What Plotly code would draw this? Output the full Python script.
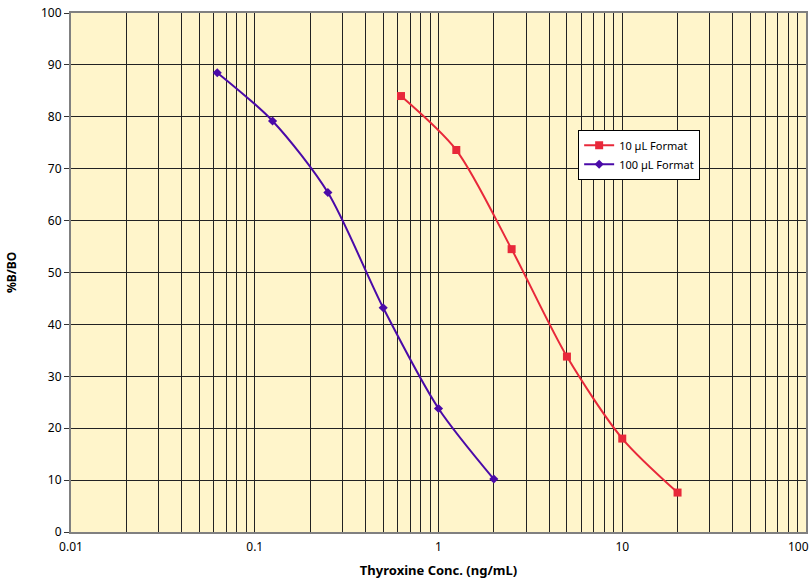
import plotly.graph_objects as go

# Standard curves: %B/B0 versus thyroxine concentration (ng/mL)
conc_10ul = [0.625, 1.25, 2.5, 5, 10, 20]
pct_10ul = [84.0, 73.6, 54.5, 33.8, 18.0, 7.6]

conc_100ul = [0.0625, 0.125, 0.25, 0.5, 1, 2]
pct_100ul = [88.5, 79.2, 65.4, 43.2, 23.8, 10.2]

decades = [0.01, 0.1, 1, 10, 100]
decade_labels = ["0.01", "0.1", "1", "10", "100"]

# every 1..9 position within each decade gets a grid line; only decades are labelled
grid_vals = []
grid_text = []
for d, lab in zip(decades[:-1], decade_labels[:-1]):
    for k in range(1, 10):
        grid_vals.append(d * k)
        grid_text.append(lab if k == 1 else "")
# last decade label is placed as an annotation so it stays inside the page
grid_vals.append(decades[-1])
grid_text.append("")

y_ticks = list(range(0, 101, 10))

font_family = "Noto Sans, Open Sans, Arial, sans-serif"

fig = go.Figure()
fig.add_trace(go.Scatter(
    x=conc_10ul, y=pct_10ul, name="10 \u00b5L Format",
    mode="lines+markers", line=dict(color="#E8283A", width=2, shape="spline", smoothing=0.8),
    marker=dict(symbol="square", size=8, color="#E8283A"),
))
fig.add_trace(go.Scatter(
    x=conc_100ul, y=pct_100ul, name="100 \u00b5L Format",
    mode="lines+markers", line=dict(color="#4A0AA8", width=2, shape="spline", smoothing=0.8),
    marker=dict(symbol="diamond", size=7, color="#4A0AA8"),
))

fig.add_annotation(
    x=2, xref="x", y=0, yref="paper",
    text=decade_labels[-1], showarrow=False,
    xanchor="right", yanchor="top", xshift=5, yshift=-4,
    font=dict(size=12, family=font_family, color="black"),
)

fig.update_layout(
    width=811, height=579,
    margin=dict(l=71, r=5, t=13, b=47),
    paper_bgcolor="white",
    plot_bgcolor="#FFF5CB",
    font=dict(family=font_family, size=11, color="black"),
    legend=dict(
        x=0.69, y=0.775, xanchor="left", yanchor="top",
        bgcolor="white", bordercolor="black", borderwidth=1,
        font=dict(size=11), itemwidth=30, tracegroupgap=2,
    ),
    xaxis=dict(
        type="log", range=[-2, 2], automargin=False,
        tickmode="array", tickvals=grid_vals, ticktext=grid_text,
        showgrid=True, gridcolor="#222222", gridwidth=1,
        showline=True, linecolor="#808080", linewidth=2, mirror=True,
        ticks="", tickfont=dict(size=12), ticklabelstandoff=3,
        title=dict(text="<b>Thyroxine Conc. (ng/mL)</b>", font=dict(size=13), standoff=12),
        zeroline=False,
    ),
    yaxis=dict(
        range=[0, 100], tickmode="array", tickvals=y_ticks, automargin=False,
        showgrid=True, gridcolor="#222222", gridwidth=1,
        showline=True, linecolor="#808080", linewidth=2, mirror=True,
        ticks="outside", ticklen=5, tickcolor="#333333", tickfont=dict(size=12),
        title=dict(text="<b>%B/BO</b>", font=dict(size=12), standoff=22),
        zeroline=False,
    ),
)

fig.write_html("out.html")
